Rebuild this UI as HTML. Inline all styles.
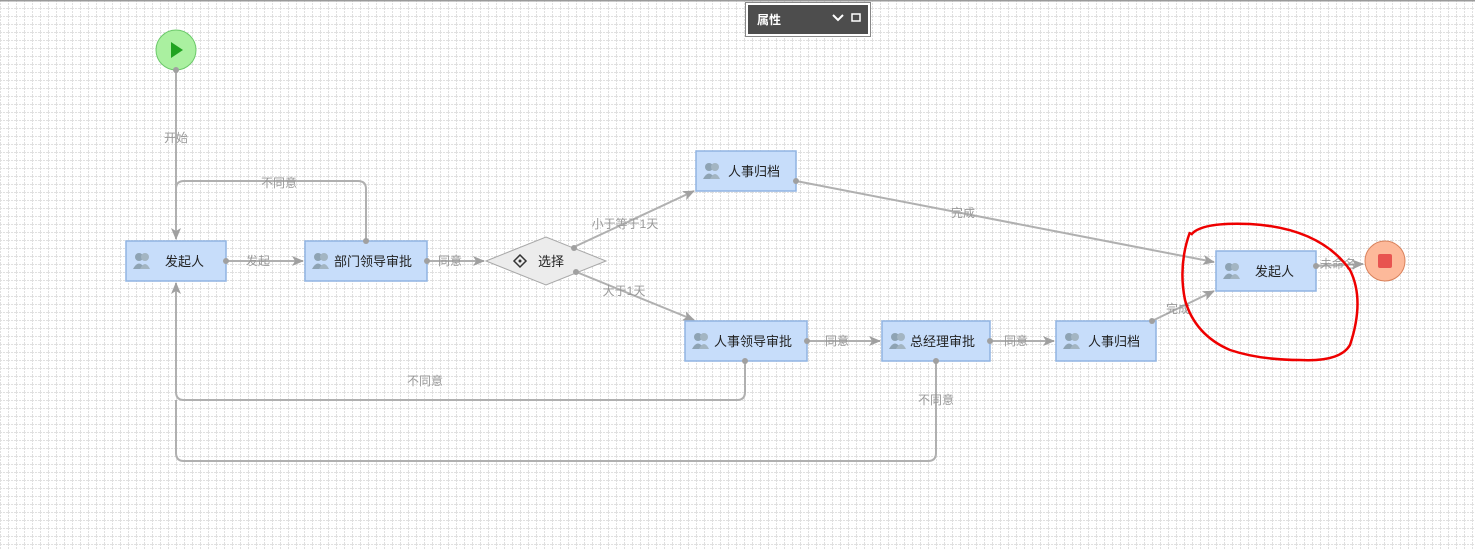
<!DOCTYPE html>
<html><head><meta charset="utf-8"><style>
html,body{margin:0;padding:0;width:1475px;height:550px;overflow:hidden;background:#fff}
svg{display:block;font-family:"Liberation Sans","Noto Sans CJK SC",sans-serif}
</style></head><body>
<svg width="1475" height="550" viewBox="0 0 1475 550" xmlns="http://www.w3.org/2000/svg">
<defs>
<pattern id="g" width="8" height="8" patternUnits="userSpaceOnUse">
<path d="M0 0.5H8M0.5 0V8" stroke="#e0e0e0" stroke-width="1" stroke-dasharray="2,1" fill="none"/>
</pattern>
<marker id="a" markerWidth="12" markerHeight="10" refX="11" refY="5" orient="auto" markerUnits="userSpaceOnUse">
<path d="M0 0L12 5L0 10L3 5Z" fill="#a0a0a0"/>
</marker>
<g id="ic"><circle cx="5" cy="4" r="4" fill="#8ea3b3"/><path d="M-1 16Q5 5 11 16Z" fill="#8ea3b3"/><circle cx="11" cy="4" r="4" fill="#a3b5c2"/><path d="M6 16Q11 6 16 16Z" fill="#a3b5c2"/></g>
</defs>
<rect width="1475" height="550" fill="url(#g)"/>
<rect x="0" y="0" width="1475" height="1.5" fill="#9a9a9a"/>

<g stroke="#b0b0b0" stroke-width="2" fill="none">
<path d="M176 70V239" marker-end="url(#a)"/>
<path d="M366 241V189Q366 181 358 181H184Q176 181 176 189"/>
<path d="M226 261H303" marker-end="url(#a)"/>
<path d="M427 261H484" marker-end="url(#a)"/>
<path d="M574 247L694 191" marker-end="url(#a)"/>
<path d="M574 271L694 320" marker-end="url(#a)"/>
<path d="M796 181L1214 262" marker-end="url(#a)"/>
<path d="M807 341H880" marker-end="url(#a)"/>
<path d="M990 341H1054" marker-end="url(#a)"/>
<path d="M1152 321L1214 291" marker-end="url(#a)"/>
<path d="M1316 266L1363 264" marker-end="url(#a)"/>
<path d="M745 361V392Q745 400 737 400H184Q176 400 176 392V283" marker-end="url(#a)"/>
<path d="M936 361V453Q936 461 928 461H184Q176 461 176 453V400"/>
</g>
<g font-size="12" fill="#999" text-anchor="middle">
<text x="176" y="142">开始</text><text x="279" y="187">不同意</text><text x="258" y="265">发起</text><text x="450" y="265">同意</text>
<text x="625" y="228">小于等于1天</text><text x="624" y="295">大于1天</text><text x="963" y="217">完成</text>
<text x="837" y="345">同意</text><text x="1016" y="345">同意</text><text x="1178" y="313">完成</text><text x="1338" y="268">未命名</text>
<text x="425" y="385">不同意</text><text x="936" y="404">不同意</text>
</g>

<circle cx="176" cy="50" r="20" fill="#aaf0a0" stroke="#6cc96a"/>
<path d="M171 42L183 50L171 58Z" fill="#21a321"/>
<circle cx="1385" cy="261" r="20" fill="#fdb99a" stroke="#d9825c"/>
<rect x="1378" y="254" width="14" height="14" rx="2" fill="#e85450"/>

<g stroke="#90b4e2" stroke-width="1.5" fill="#c7ddfa">
<rect x="126" y="241" width="100" height="40"/><rect x="305" y="241" width="122" height="40"/>
<rect x="696" y="151" width="100" height="40"/><rect x="685" y="321" width="122" height="40"/>
<rect x="882" y="321" width="108" height="40"/><rect x="1056" y="321" width="100" height="40"/>
<rect x="1216" y="251" width="100" height="40"/>
</g>
<path d="M486 261L546 237L606 261L546 285Z" fill="#ececec" stroke="#a8a8a8"/>
<use href="#ic" x="134" y="253"/><use href="#ic" x="313" y="253"/><use href="#ic" x="704" y="163"/><use href="#ic" x="693" y="333"/>
<use href="#ic" x="890" y="333"/><use href="#ic" x="1064" y="333"/><use href="#ic" x="1224" y="263"/>
<g font-size="13" fill="#222">
<text x="165" y="266">发起人</text><text x="334" y="266">部门领导审批</text><text x="728" y="176">人事归档</text>
<text x="714" y="346">人事领导审批</text><text x="910" y="346">总经理审批</text><text x="1088" y="346">人事归档</text>
<text x="1255" y="276">发起人</text><text x="538" y="266">选择</text>
</g>
<path d="M514 261L520 255L526 261L520 267Z" fill="none" stroke="#333" stroke-width="1.5"/><circle cx="520" cy="261" r="1.5" fill="#333"/>
<g fill="#a0a0a0">
<circle cx="176" cy="70" r="3"/><circle cx="366" cy="241" r="3"/><circle cx="226" cy="261" r="3"/><circle cx="427" cy="261" r="3"/>
<circle cx="574" cy="248" r="3"/><circle cx="576" cy="272" r="3"/><circle cx="796" cy="181" r="3"/><circle cx="807" cy="341" r="3"/>
<circle cx="990" cy="341" r="3"/><circle cx="1152" cy="321" r="3"/><circle cx="1316" cy="266" r="3"/><circle cx="745" cy="361" r="3"/><circle cx="936" cy="361" r="3"/>
</g>

<rect x="745.5" y="2.5" width="125" height="34" fill="#fff" stroke="#888"/>
<rect x="748" y="5" width="120" height="29" fill="#4d4d4d"/>
<text x="757" y="24" font-size="12" font-weight="bold" fill="#fff">属性</text>
<path d="M833 15L838 20L843 15" stroke="#fff" stroke-width="2" fill="none"/>
<rect x="852" y="14" width="8" height="7" fill="none" stroke="#fff" stroke-width="1.5"/>

<path d="M1191 235Q1200 222 1250 224Q1320 228 1350 270Q1365 300 1350 345Q1340 362 1300 360Q1260 360 1230 350Q1195 335 1185 300Q1178 265 1190 232" fill="none" stroke="#ee0000" stroke-width="2.5"/>
</svg>
</body></html>
